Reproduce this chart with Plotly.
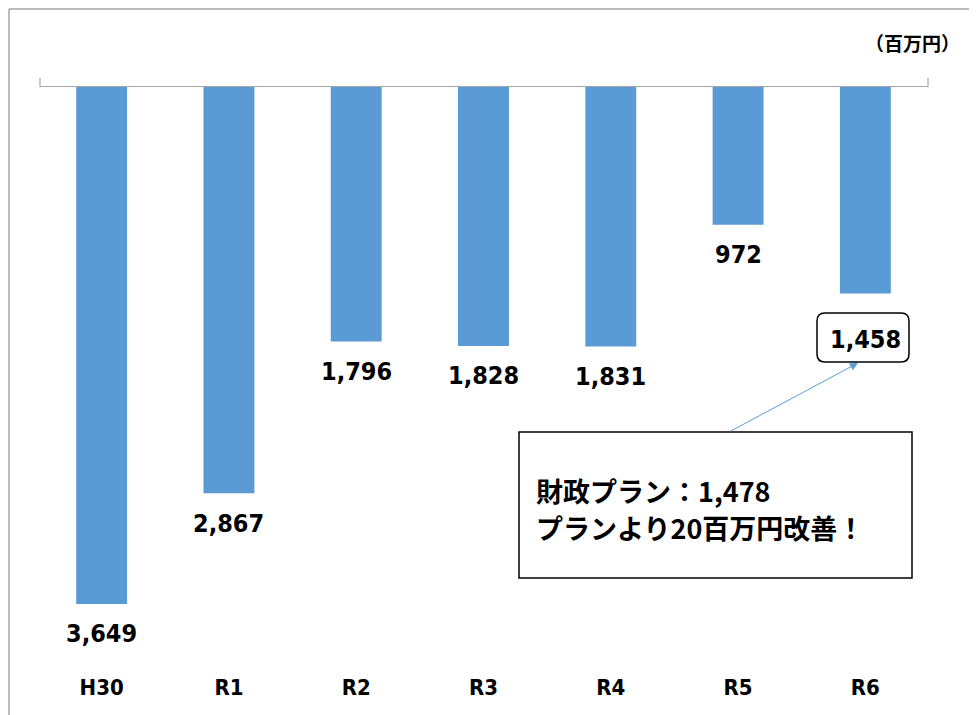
import plotly.graph_objects as go

categories = ["H30", "R1", "R2", "R3", "R4", "R5", "R6"]
values = [3649, 2867, 1796, 1828, 1831, 972, 1458]
value_labels = ["3,649", "2,867", "1,796", "1,828", "1,831", "972", "1,458"]
unit_label = "（百万円）"
note_lines = ["財政プラン：1,478", "プランより20百万円改善！"]

W, H = 977, 715
OFF = 8  # page body margin
L, R, T, B = 38, 929, 87, 672  # plot area in screen pixels
PW, PH = R - L, B - T

def px(x):
    return (x - L) / PW

def py(y):
    return (B - y) / PH

NUM_FONT = "Liberation Sans Narrow, Arial Narrow, DejaVu Sans Condensed, Liberation Sans, sans-serif"
JP_FONT = "Noto Sans CJK JP, sans-serif"
BAR = "#5B9BD5"
GRAY = "#A6A6A6"

fig = go.Figure()
fig.add_trace(go.Bar(x=categories, y=values, width=0.4, marker=dict(color=BAR, line=dict(width=0)),
                     hoverinfo="skip"))

annotations = []
for i, (c, v, lab) in enumerate(zip(categories, values, value_labels)):
    shift = -46 if i == len(categories) - 1 else -30
    annotations.append(dict(x=c, y=v, xref="x", yref="y", text=f"<b>{lab}</b>", showarrow=False,
                            yanchor="middle", yshift=shift,
                            font=dict(family=NUM_FONT, size=25, color="black")))

# unit label
annotations.append(dict(x=px(962), y=py(42), xref="paper", yref="paper", text=f"<b>{unit_label}</b>",
                        showarrow=False, xanchor="right", yanchor="middle",
                        font=dict(family=JP_FONT, size=19, color="black")))
# note lines
annotations.append(dict(x=px(534), y=py(490), xref="paper", yref="paper", text=f"<b>{note_lines[0]}</b>",
                        showarrow=False, xanchor="left", yanchor="middle",
                        font=dict(family=JP_FONT, size=27, color="black")))
annotations.append(dict(x=px(534), y=py(527), xref="paper", yref="paper", text=f"<b>{note_lines[1]}</b>",
                        showarrow=False, xanchor="left", yanchor="middle",
                        font=dict(family=JP_FONT, size=27, color="black")))
# arrow
annotations.append(dict(x=px(858), y=py(363), xref="paper", yref="paper", text="", showarrow=True,
                        ax=729 - 858, ay=432 - 363, arrowhead=2, arrowsize=1.6, arrowwidth=1,
                        arrowcolor=BAR))

# rounded box around R6 label
x0, x1, y0, y1, r = 817, 909, 313, 362, 8
path = (f"M {px(x0+r)},{py(y0)} L {px(x1-r)},{py(y0)} Q {px(x1)},{py(y0)} {px(x1)},{py(y0+r)} "
        f"L {px(x1)},{py(y1-r)} Q {px(x1)},{py(y1)} {px(x1-r)},{py(y1)} "
        f"L {px(x0+r)},{py(y1)} Q {px(x0)},{py(y1)} {px(x0)},{py(y1-r)} "
        f"L {px(x0)},{py(y0+r)} Q {px(x0)},{py(y0)} {px(x0+r)},{py(y0)} Z")

shapes = [
    # outer frame
    dict(type="line", xref="paper", yref="paper", x0=px(9), x1=px(990), y0=py(9), y1=py(9),
         line=dict(color=GRAY, width=1.5)),
    dict(type="line", xref="paper", yref="paper", x0=px(9), x1=px(9), y0=py(9), y1=py(730),
         line=dict(color=GRAY, width=1.5)),
    # baseline with end ticks
    dict(type="path", xref="paper", yref="paper",
         path=f"M {px(40)},{py(78)} L {px(40)},{py(86.5)} L {px(928)},{py(86.5)} L {px(928)},{py(78)}",
         line=dict(color=GRAY, width=1.2)),
    # note box
    dict(type="rect", xref="paper", yref="paper", x0=px(519), x1=px(912), y0=py(432), y1=py(578),
         line=dict(color="black", width=1.5), fillcolor="rgba(0,0,0,0)"),
    dict(type="path", xref="paper", yref="paper", path=path, line=dict(color="black", width=1.5)),
]

fig.update_layout(
    width=W, height=H,
    margin=dict(l=L - OFF, r=W + OFF - R, t=T - OFF, b=H + OFF - B, pad=0),
    paper_bgcolor="white", plot_bgcolor="white",
    showlegend=False,
    xaxis=dict(range=[-0.5, 6.5], showgrid=False, zeroline=False, showline=False, ticks="",
               tickfont=dict(family=NUM_FONT, size=22, color="black"),
               tickvals=categories, ticktext=[f"<b>{c}</b>" for c in categories]),
    yaxis=dict(range=[PH / 0.14168, 0], showgrid=False, zeroline=False, showline=False,
               showticklabels=False, ticks=""),
    annotations=annotations,
    shapes=shapes,
)

fig.write_html("out.html")
